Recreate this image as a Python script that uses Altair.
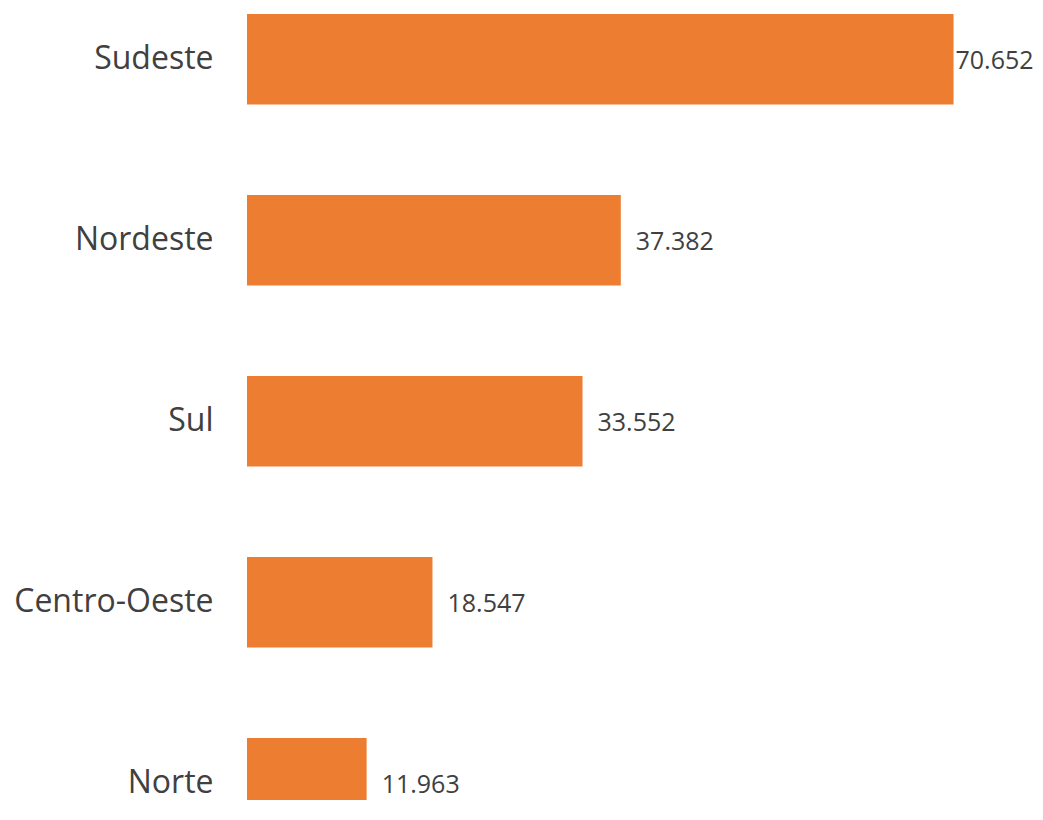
import altair as alt
import pandas as pd

regions = ["Sudeste", "Nordeste", "Sul", "Centro-Oeste", "Norte"]
values = [70652, 37382, 33552, 18547, 11963]
labels = ["70.652", "37.382", "33.552", "18.547", "11.963"]

df = pd.DataFrame({"region": regions, "value": values, "label": labels})

y_enc = alt.Y(
    "region:N",
    sort=regions,
    title=None,
    scale=alt.Scale(range=[1, 815.5], paddingInner=0.5, paddingOuter=0),
    axis=alt.Axis(
        domain=False,
        ticks=False,
        grid=False,
        labelFontSize=32,
        labelFont="Open Sans",
        labelColor="#404040",
        labelPadding=34,
        labelLimit=400,
    ),
)
x_enc = alt.X(
    "value:Q",
    title=None,
    scale=alt.Scale(domain=[0, 76000], nice=False),
    axis=None,
)

base = alt.Chart(df).encode(y=y_enc, x=x_enc)

bars = base.mark_bar(color="#ED7D31", clip=True)

text_common = dict(
    align="left",
    baseline="middle",
    font="Open Sans",
    fontSize=25,
    color="#404040",
)
text_main = base.transform_filter(alt.datum.region != "Sudeste").mark_text(dx=15, dy=2, **text_common).encode(text="label:N")
text_top = base.transform_filter(alt.datum.region == "Sudeste").mark_text(dx=2, dy=2, **text_common).encode(text="label:N")

chart = (
    alt.layer(bars, text_main, text_top)
    .properties(
        width=760,
        height=787,
        padding={"left": 5, "top": 5, "right": 0, "bottom": -11},
        background="white",
    )
    .configure_view(strokeWidth=0, stroke="transparent")
)

chart.save("out.html", embed_options={"renderer": "svg", "actions": False})
